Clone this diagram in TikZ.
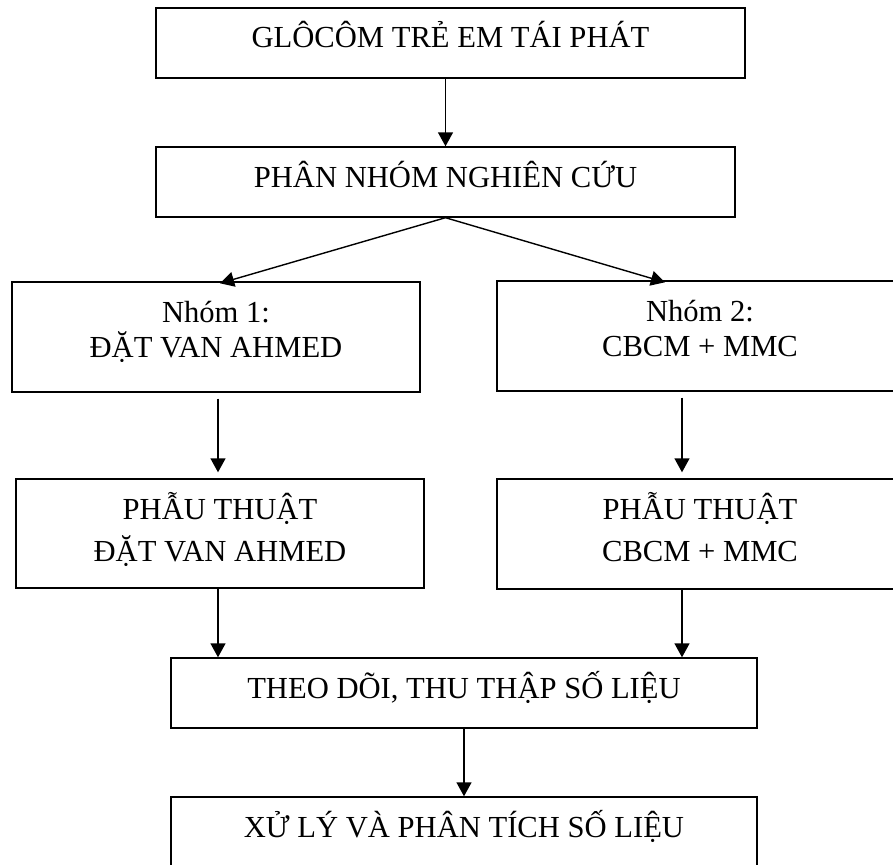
\documentclass[tikz,border=0pt]{standalone}
\usepackage{fontspec}
\setmainfont{Liberation Serif}
\usepackage{tikz}
\usetikzlibrary{calc,arrows.meta,positioning}

\begin{document}
\begin{tikzpicture}[x=1pt, y=-1pt,
       >={Triangle[length=14pt,width=15pt]}, black, line width=1.4pt,
       every node/.style={font=\fontsize{30.6}{35}\selectfont},
       stage/.style 2 args = {rectangle, draw, inner sep=0pt, align=center,
                              minimum width=#1, minimum height=#2,
                              text height=22pt, text depth=#2-58pt},
       twolines/.style={text height=57pt, text depth=17pt},
       widelines/.style={font=\fontsize{30.6}{42}\selectfont,
                         text height=65pt, text depth=10pt}]

	%% Page frame
	\useasboundingbox (0,0) rectangle (893,864);

	%% Stages of the study (centres taken from the layout)
	\node [stage={589pt}{70pt}] (glaucoma) at (450.5,43) {GLÔCÔM TRẺ EM TÁI PHÁT};
	\node [stage={579pt}{70pt}] (grouping) at (445.5,182) {PHÂN NHÓM NGHIÊN CỨU};
	\node [stage={408pt}{110pt}, twolines] (group1) at (216,337) {Nhóm 1:\\ĐẶT VAN AHMED};
	\node [stage={406pt}{110pt}, twolines] (group2) at (700,336) {Nhóm 2:\\CBCM + MMC};
	\node [stage={408pt}{109pt}, widelines] (surgery1) at (220,533.5) {PHẪU THUẬT\\ĐẶT VAN AHMED};
	\node [stage={406pt}{110pt}, widelines] (surgery2) at (700,534) {PHẪU THUẬT\\CBCM + MMC};
	\node [stage={586pt}{70pt}] (follow) at (464,693) {THEO DÕI, THU THẬP SỐ LIỆU};
	\node [stage={586pt}{70pt}] (analyse) at (464,832) {XỬ LÝ VÀ PHÂN TÍCH SỐ LIỆU};

	%% Columns of the two branches
	\coordinate (lcol) at (218,0);
	\coordinate (rcol) at (682,0);

	%% Arrows
	\draw[->] (glaucoma.south -| grouping.north) -- (grouping.north);
	\draw[->] (grouping.south) -- ($(group1.north)+(4,2)$);
	\draw[->] (grouping.south) -- ($(group2.north west)!0.414!(group2.north east)+(0,2)$);
	\foreach \i/\c in {1/lcol,2/rcol}
		{\draw[->,shorten <=6pt,shorten >=6pt] (group\i.south -| \c) -- (surgery\i.north -| \c);
		 \draw[->] (surgery\i.south -| \c) -- (follow.north -| \c);}
	\draw[->] (follow.south) -- (analyse.north);
\end{tikzpicture}
\end{document}
